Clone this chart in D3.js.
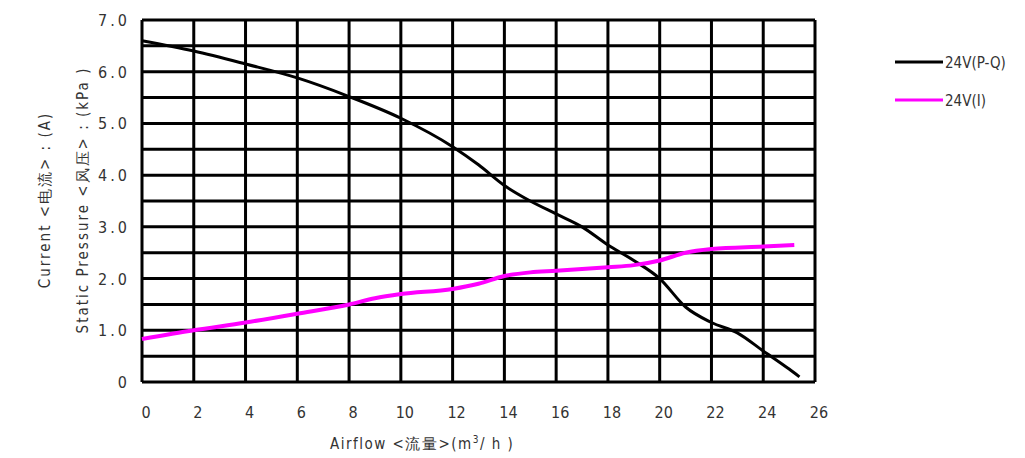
<!DOCTYPE html><html><head><meta charset="utf-8"><script src="https://cdn.jsdelivr.net/npm/d3@7"></script>
<style>body{margin:0;background:#fff}text{font-family:"DejaVu Sans Condensed","Liberation Sans",sans-serif;fill:#333}</style></head><body><svg id="c" width="1025" height="458"></svg><script>
const xTicks=[0,2,4,6,8,10,12,14,16,18,20,22,24,26];
const yTicks=[0,1,2,3,4,5,6,7];
const yTickLabels=["0","1.0","2.0","3.0","4.0","5.0","6.0","7.0"];
const pqFlow=[0,2,4,6,8,10,12,13,14,15,16,17,18,19,20,21,22,23,24,25,25.4];
const pqPressure=[6.6,6.4,6.15,5.88,5.52,5.1,4.55,4.2,3.8,3.5,3.25,3.0,2.65,2.35,2.0,1.45,1.15,0.95,0.6,0.25,0.1];
const iFlow=[0,2,4,6,8,9,10,12,13,14,15,16,18,19,20,21,22,24,25.2];
const iCurrent=[0.83,1.0,1.15,1.32,1.5,1.62,1.7,1.8,1.9,2.05,2.12,2.15,2.22,2.26,2.35,2.5,2.57,2.62,2.65];
const seriesNames=["24V(P-Q)","24V(Ⅰ)"];
const svg=d3.select("#c");
const x=d3.scaleLinear().domain([0,26]).range([142,815]);
const y=d3.scaleLinear().domain([0,7]).range([382,20]);
const g=svg.append("g");
d3.range(0,7.01,0.5).forEach(v=>g.append("line").attr("x1",x(0)).attr("x2",x(26)).attr("y1",y(v)).attr("y2",y(v)).attr("stroke","#000").attr("stroke-width",3));
xTicks.forEach(v=>g.append("line").attr("x1",x(v)).attr("x2",x(v)).attr("y1",y(0)).attr("y2",y(7)).attr("stroke","#000").attr("stroke-width",3));
svg.selectAll(".xt").data(xTicks).join("text").attr("x",d=>x(d)+4).attr("y",418).attr("text-anchor","middle").attr("font-size",16).text(d=>d);
svg.selectAll(".yt").data(yTicks).join("text").attr("x",130).attr("y",d=>y(d)+6).attr("text-anchor","end").attr("font-size",16).attr("letter-spacing",3).text((d,i)=>yTickLabels[i]);
const line=d3.line().x(d=>x(d[0])).y(d=>y(d[1])).curve(d3.curveMonotoneX);
svg.append("path").attr("d",line(pqFlow.map((f,i)=>[f,pqPressure[i]]))).attr("fill","none").attr("stroke","#000").attr("stroke-width",3);
svg.append("path").attr("d",line(iFlow.map((f,i)=>[f,iCurrent[i]]))).attr("fill","none").attr("stroke","#f0f").attr("stroke-width",4);
svg.append("text").attr("transform","translate(50,200) rotate(-90)").attr("text-anchor","middle").attr("font-size",15).attr("letter-spacing",2).text("Current   <电流> : (A)");
svg.append("text").attr("transform","translate(88,200) rotate(-90)").attr("text-anchor","middle").attr("font-size",15).attr("letter-spacing",2).text("Static  Pressure  <风压> : (kPa )");
svg.append("text").attr("x",330).attr("y",449).attr("font-size",15).attr("letter-spacing",1.5).html("Airflow &lt;流量&gt;(m<tspan dy='-6' font-size='10'>3</tspan><tspan dy='6'>/ h )</tspan>");
const cols=["#000","#f0f"];
seriesNames.forEach((n,i)=>{const yy=62+i*38;
svg.append("line").attr("x1",895).attr("x2",943).attr("y1",yy).attr("y2",yy).attr("stroke",cols[i]).attr("stroke-width",i?3:3);
svg.append("text").attr("x",945).attr("y",yy+6).attr("font-size",15).text(n);});
</script></body></html>
